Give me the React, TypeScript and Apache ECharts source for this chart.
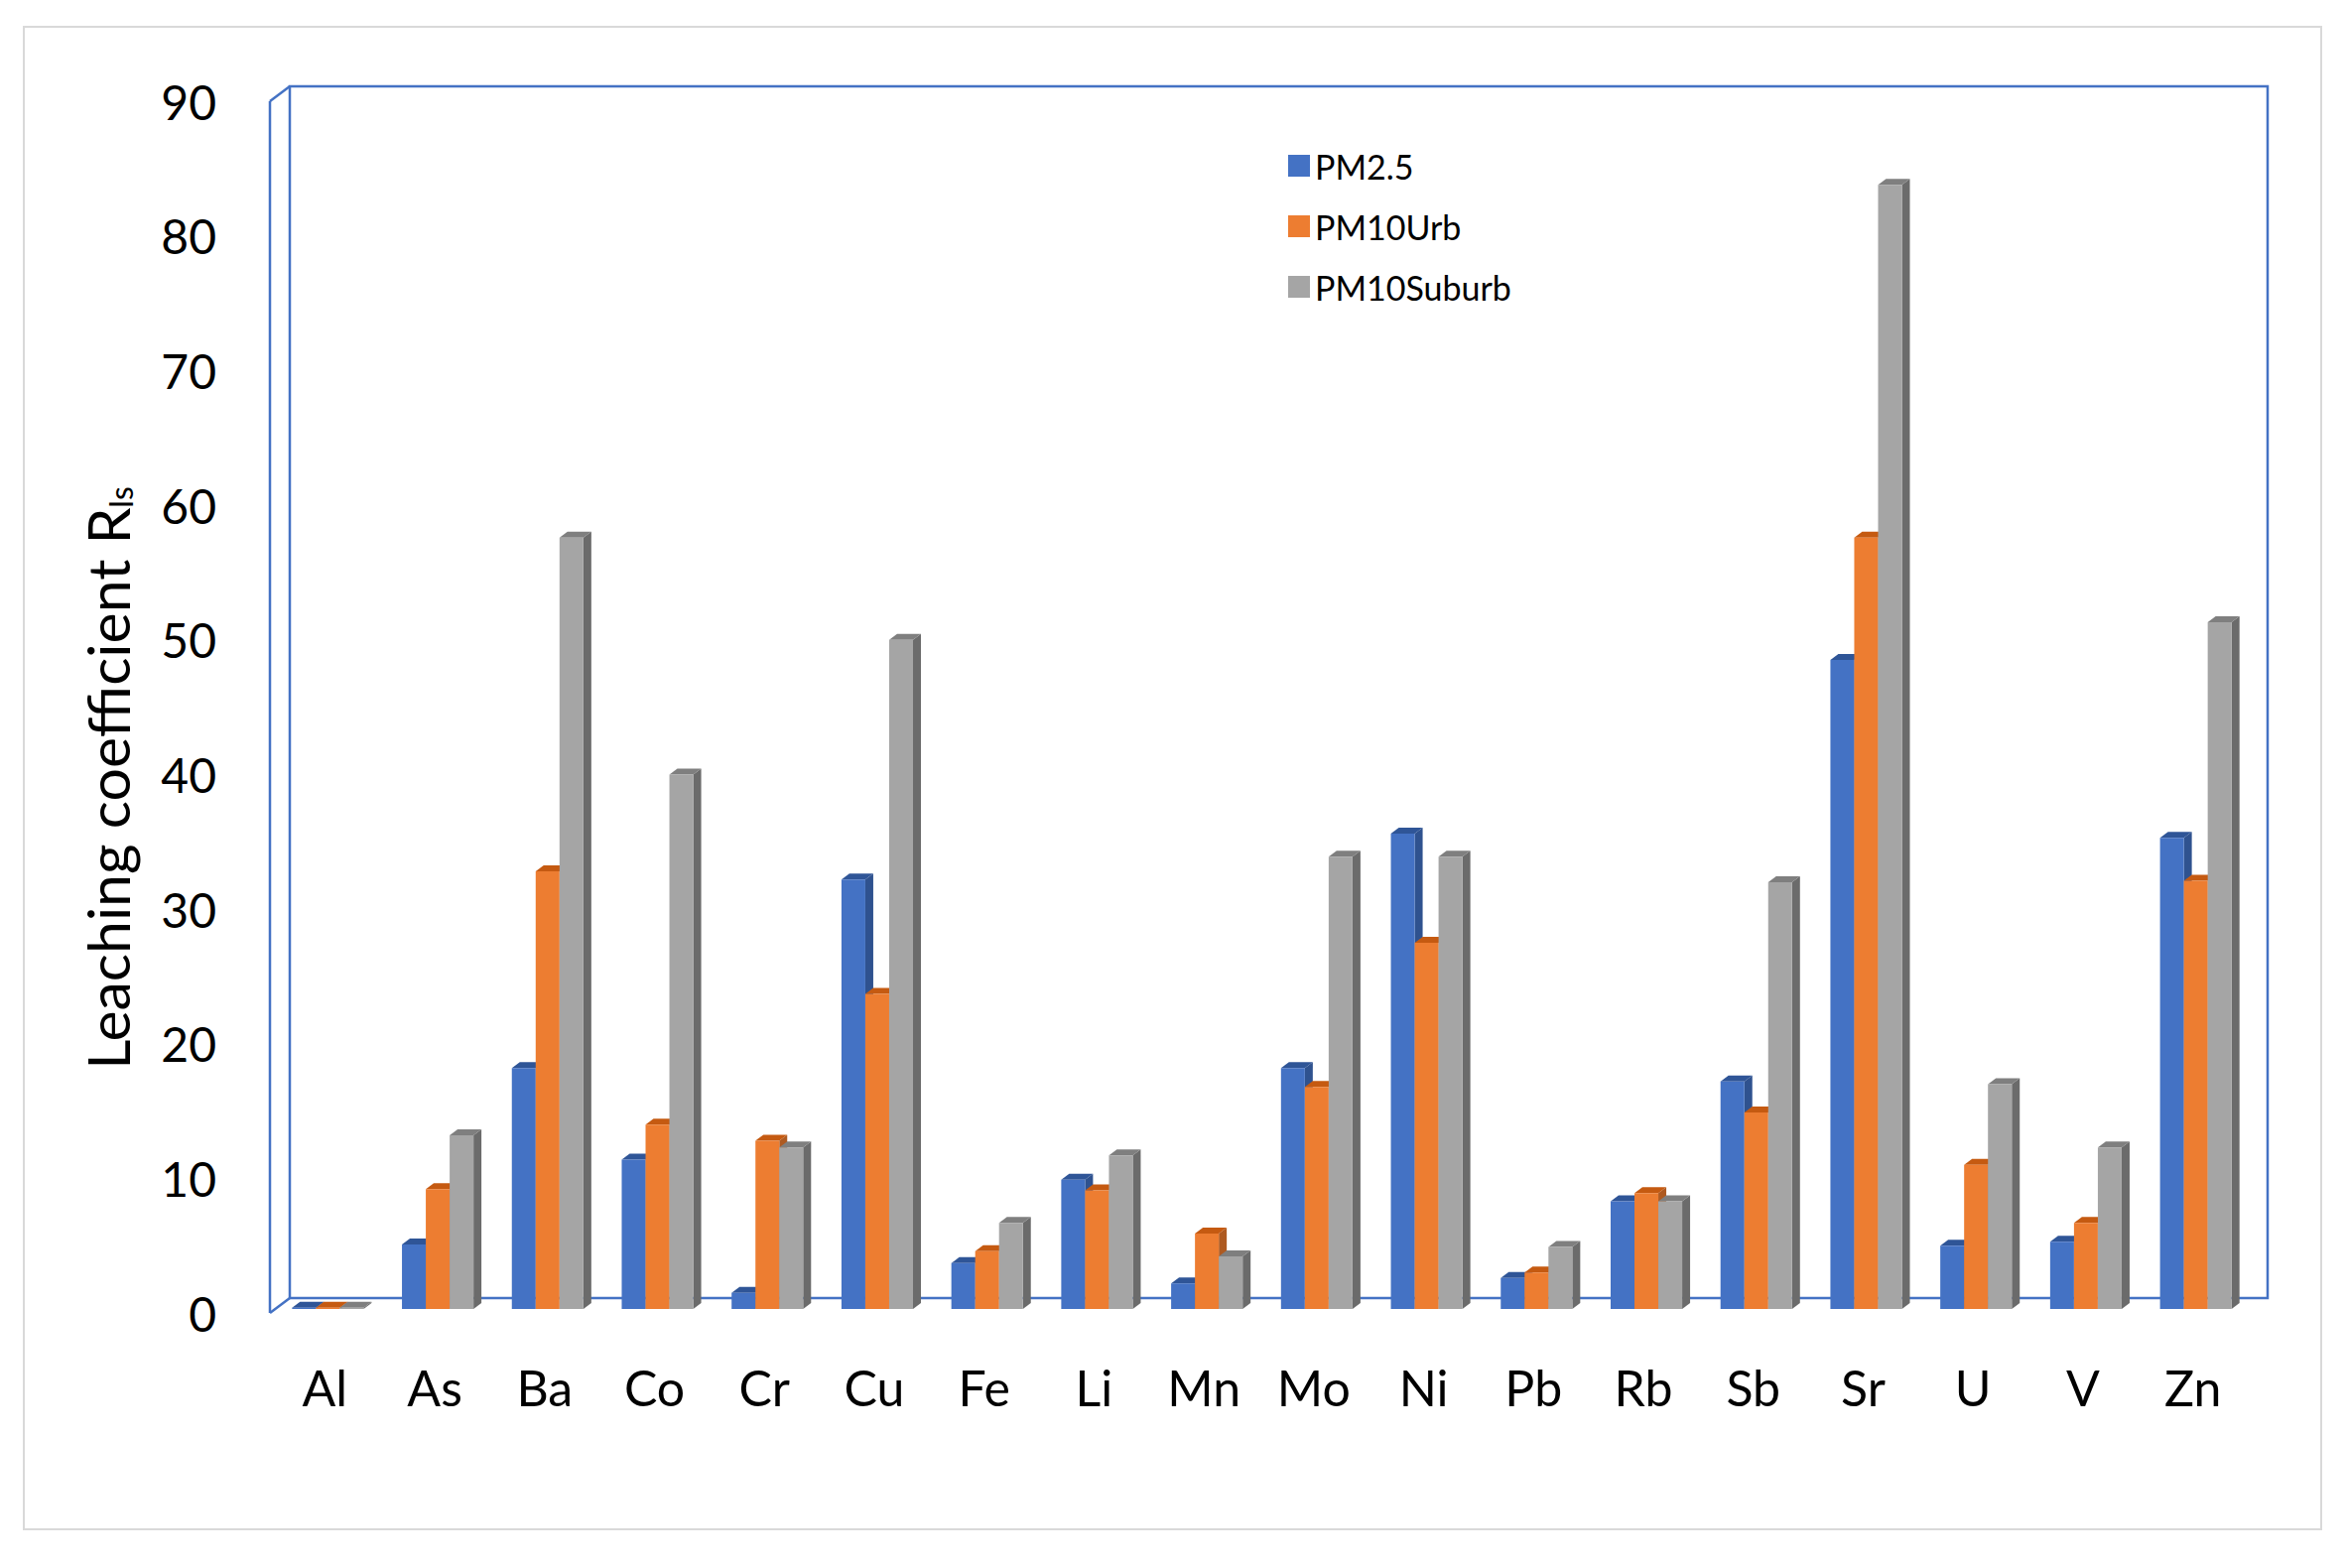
import React, { useEffect, useRef } from "react";
import * as echarts from "echarts";

const categories = ["Al", "As", "Ba", "Co", "Cr", "Cu", "Fe", "Li", "Mn", "Mo", "Ni", "Pb", "Rb", "Sb", "Sr", "U", "V", "Zn"];
const pm25 = [0.1, 4.8, 17.9, 11.1, 1.2, 31.9, 3.4, 9.6, 1.9, 17.9, 35.3, 2.3, 8.0, 16.9, 48.2, 4.7, 5.0, 35.0];
const pm10Urb = [0.1, 8.9, 32.5, 13.7, 12.5, 23.4, 4.3, 8.8, 5.6, 16.5, 27.2, 2.7, 8.6, 14.6, 57.3, 10.7, 6.4, 31.8];
const pm10Suburb = [0.1, 12.9, 57.3, 39.7, 12.0, 49.7, 6.4, 11.4, 3.9, 33.6, 33.6, 4.6, 8.0, 31.7, 83.5, 16.7, 12.0, 51.0];
const seriesNames = ["PM2.5", "PM10Urb", "PM10Suburb"];
const yMin = 0;
const yMax = 90;
const yStep = 10;

const W = 2365;
const H = 1580;
// front plane of the 3D box
const FL = 272, FT = 102, FW = 1993, FH = 1221;
// depth offset from front to back wall
const DX = 20, DY = 15;
// bar plane offset from front plane
const BX = 6, BY = 4;
// bar 3D depth
const BDX = 8, BDY = 6;

const palette = [
  { front: "#4472C4", top: "#2F5597", side: "#2F528F" },
  { front: "#ED7D31", top: "#C55A11", side: "#AE5A21" },
  { front: "#A5A5A5", top: "#7F7F7F", side: "#6B6B6B" },
];

const FONT = "Lato";
const WALL = "#4472C4";

function makeRender(si: number) {
  const c = palette[si];
  return (params: any, api: any) => {
    const idx = api.value(0);
    const v = api.value(1);
    const base = api.coord([idx, 0]);
    const top = api.coord([idx, v]);
    const band = api.size([1, 0])[0];
    const bw = band * 0.217;
    const cx = base[0] - 3;
    const x0 = cx - 1.5 * bw + si * bw;
    const x1 = x0 + bw;
    const yb = base[1];
    const yt = top[1];
    return {
      type: "group",
      children: [
        {
          type: "polygon",
          shape: { points: [[x1, yt], [x1 + BDX, yt - BDY], [x1 + BDX, yb - BDY], [x1, yb]] },
          style: { fill: c.side },
        },
        {
          type: "polygon",
          shape: { points: [[x0, yt], [x0 + BDX, yt - BDY], [x1 + BDX, yt - BDY], [x1, yt]] },
          style: { fill: c.top },
        },
        {
          type: "rect",
          shape: { x: x0, y: yt, width: bw, height: Math.max(yb - yt, 0) },
          style: { fill: c.front },
        },
      ],
    };
  };
}

export default function App() {
  const ref = useRef<HTMLDivElement>(null);
  useEffect(() => {
    document.body.style.margin = "0";
    if (!ref.current) return;
    const chart = echarts.init(ref.current, undefined, { renderer: "svg" });
    const all = [pm25, pm10Urb, pm10Suburb];
    const BL = FL + BX;
    const BT = FT - BY;
    const option: any = {
      animation: false,
      backgroundColor: "#ffffff",
      grid: [
        { left: FL, top: FT, width: FW, height: FH },
        { left: BL, top: BT, width: FW, height: FH },
      ],
      xAxis: [
        {
          type: "category",
          gridIndex: 0,
          data: categories,
          axisLine: { show: false },
          axisTick: { show: false },
          axisLabel: { fontFamily: FONT, fontSize: 50, color: "#000", margin: 50 },
        },
        {
          type: "category",
          gridIndex: 1,
          data: categories,
          show: false,
        },
      ],
      yAxis: [
        {
          type: "value",
          gridIndex: 0,
          min: yMin,
          max: yMax,
          interval: yStep,
          axisLine: { show: false },
          axisTick: { show: false },
          splitLine: { show: false },
          axisLabel: { fontFamily: FONT, fontSize: 48, color: "#000", margin: 54 },
        },
        {
          type: "value",
          gridIndex: 1,
          min: yMin,
          max: yMax,
          interval: yStep,
          show: false,
        },
      ],
      legend: {
        orient: "vertical",
        left: 1293,
        top: 145,
        icon: "rect",
        itemWidth: 22,
        itemHeight: 22,
        itemGap: 27,
        data: seriesNames,
        textStyle: { fontFamily: FONT, fontSize: 34, color: "#000", lineHeight: 34 },
      },
      graphic: {
        elements: [
          {
            type: "rect",
            z: 0,
            shape: { x: 24, y: 27, width: 2315, height: 1514 },
            style: { fill: "none", stroke: "#d9d9d9", lineWidth: 2 },
          },
          {
            type: "rect",
            z: 0,
            shape: { x: FL + DX, y: FT - DY, width: FW, height: FH },
            style: { fill: "none", stroke: WALL, lineWidth: 2.5 },
          },
          {
            type: "line",
            z: 0,
            shape: { x1: FL, y1: FT, x2: FL, y2: FT + FH },
            style: { stroke: WALL, lineWidth: 2.5 },
          },
          {
            type: "line",
            z: 0,
            shape: { x1: FL, y1: FT, x2: FL + DX, y2: FT - DY },
            style: { stroke: WALL, lineWidth: 2.5 },
          },
          {
            type: "line",
            z: 0,
            shape: { x1: FL, y1: FT + FH, x2: FL + DX, y2: FT + FH - DY },
            style: { stroke: WALL, lineWidth: 2.5 },
          },
          {
            type: "text",
            z: 5,
            x: 108,
            y: 784,
            rotation: Math.PI / 2,
            style: {
              text: "{a|Leaching coefficient R}{b|ls}",
              align: "center",
              verticalAlign: "middle",
              rich: {
                a: { fontFamily: FONT, fontSize: 59, fill: "#000", color: "#000" },
                b: { fontFamily: FONT, fontSize: 32, fill: "#000", color: "#000", verticalAlign: "bottom" },
              },
            },
          },
        ],
      },
      series: all.map((vals, si) => ({
        type: "custom",
        name: seriesNames[si],
        xAxisIndex: 1,
        yAxisIndex: 1,
        itemStyle: { color: palette[si].front },
        renderItem: makeRender(si),
        encode: { x: 0, y: 1 },
        data: vals.map((v, i) => [i, v]),
      })),
    };
    chart.setOption(option);
    return () => chart.dispose();
  }, []);
  return <div ref={ref} style={{ width: W, height: H }} />;
}
